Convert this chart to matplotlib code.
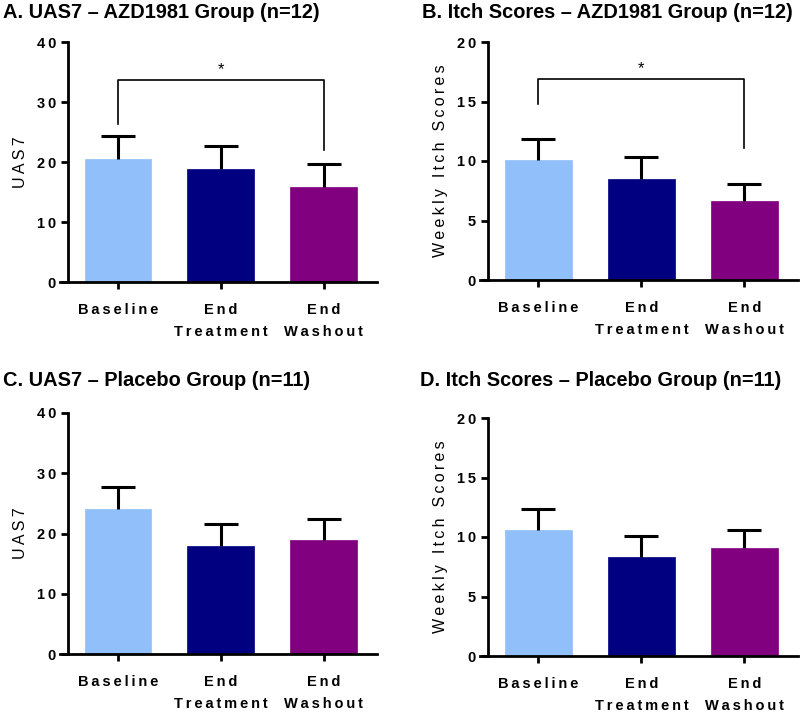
import matplotlib
matplotlib.use("Agg")
import matplotlib.pyplot as plt
import numpy as np

categories = ["Baseline", "End\nTreatment", "End\nWashout"]
colors = ["#90BFF9", "#000080", "#800080"]

uas7_azd = [20.5, 18.8, 15.9]
uas7_azd_err = [3.8, 3.9, 3.7]
itch_azd = [10.1, 8.45, 6.6]
itch_azd_err = [1.75, 1.9, 1.5]
uas7_pbo = [24.0, 17.9, 18.9]
uas7_pbo_err = [3.7, 3.6, 3.5]
itch_pbo = [10.6, 8.35, 9.05]
itch_pbo_err = [1.75, 1.7, 1.55]

titles = ["A. UAS7 \u2013 AZD1981 Group (n=12)",
          "B. Itch Scores \u2013 AZD1981 Group (n=12)",
          "C. UAS7 \u2013 Placebo Group (n=11)",
          "D. Itch Scores \u2013 Placebo Group (n=11)"]
ylabels = ["UAS7", "Weekly Itch Scores", "UAS7", "Weekly Itch Scores"]
ymaxes = [40, 20, 40, 20]
ysteps = [10, 5, 10, 5]

# significance brackets (panel index: (left bar, right bar, bracket y, left drop, right drop))
brackets = {0: (0, 2, 33.7, 26.4, 22.0), 1: (0, 2, 16.9, 14.75, 11.1)}

FAM = ["Liberation Sans", "DejaVu Sans"]
TS = "\u2009"

def spaced(s):
    return "\n".join(TS.join(list(line)) for line in s.split("\n"))

fig = plt.figure(figsize=(8.0, 7.13), dpi=100)
W, H = 800, 713
# pixel boxes: x-axis left end, right, top, bottom
boxes = [(60, 377, 42, 282), (480, 798, 42, 280), (60, 377, 413, 654), (480, 798, 418, 656)]
title_pos = [(3, 12), (422, 12), (3, 380), (420, 380)]
data = [(uas7_azd, uas7_azd_err), (itch_azd, itch_azd_err),
        (uas7_pbo, uas7_pbo_err), (itch_pbo, itch_pbo_err)]

for i in range(4):
    l, r, t, b = boxes[i]
    ax = fig.add_axes([l / W, 1 - b / H, (r - l) / W, (b - t) / H])
    vals, errs = data[i]
    x = np.arange(len(categories))
    ax.bar(x, vals, width=0.65, color=colors, edgecolor=colors, linewidth=0.5, zorder=2)
    eb = ax.errorbar(x, vals, yerr=[np.zeros(3), errs], fmt="none", ecolor="black",
                     elinewidth=2.2, capsize=12, capthick=2.2, zorder=3)
    # hide the lower (zero-length) caps
    eb[1][0].set_visible(False)
    ax.set_xlim(-0.565, 2.52)
    ax.set_ylim(0, ymaxes[i])
    ax.spines["left"].set_position(("data", -0.49))
    ax.spines["top"].set_visible(False)
    ax.spines["right"].set_visible(False)
    for s in ["left", "bottom"]:
        ax.spines[s].set_linewidth(2.0)
    ax.tick_params(width=2.0, length=5, direction="out")
    ax.set_yticks(np.arange(0, ymaxes[i] + 1, ysteps[i]))
    ax.set_yticklabels([spaced(str(v)) for v in np.arange(0, ymaxes[i] + 1, ysteps[i])],
                       fontsize=10.5, fontweight="bold", family=FAM)
    ax.set_xticks(x)
    ax.set_xticklabels([spaced(c) for c in categories], fontsize=10.5, fontweight="bold",
                       family=FAM, linespacing=1.75)
    ax.tick_params(axis="x", pad=10)
    ax.set_ylabel(spaced(ylabels[i]), fontsize=11.5, family=FAM, labelpad=6)
    if i in brackets:
        a, c, yb, yl, yr = brackets[i]
        ax.plot([a, a, c, c], [yl, yb, yb, yr], color="black", lw=1.2, zorder=3)
        ax.text((a + c) / 2, yb + ymaxes[i] * 0.012, "*", ha="center", va="bottom",
                fontsize=12, family=FAM)
    tx, ty = title_pos[i]
    fig.text(tx / W, 1 - ty / H, titles[i], fontsize=14.4, fontweight="bold",
             family=FAM, ha="left", va="center")

fig.savefig("out.png", dpi=100)
